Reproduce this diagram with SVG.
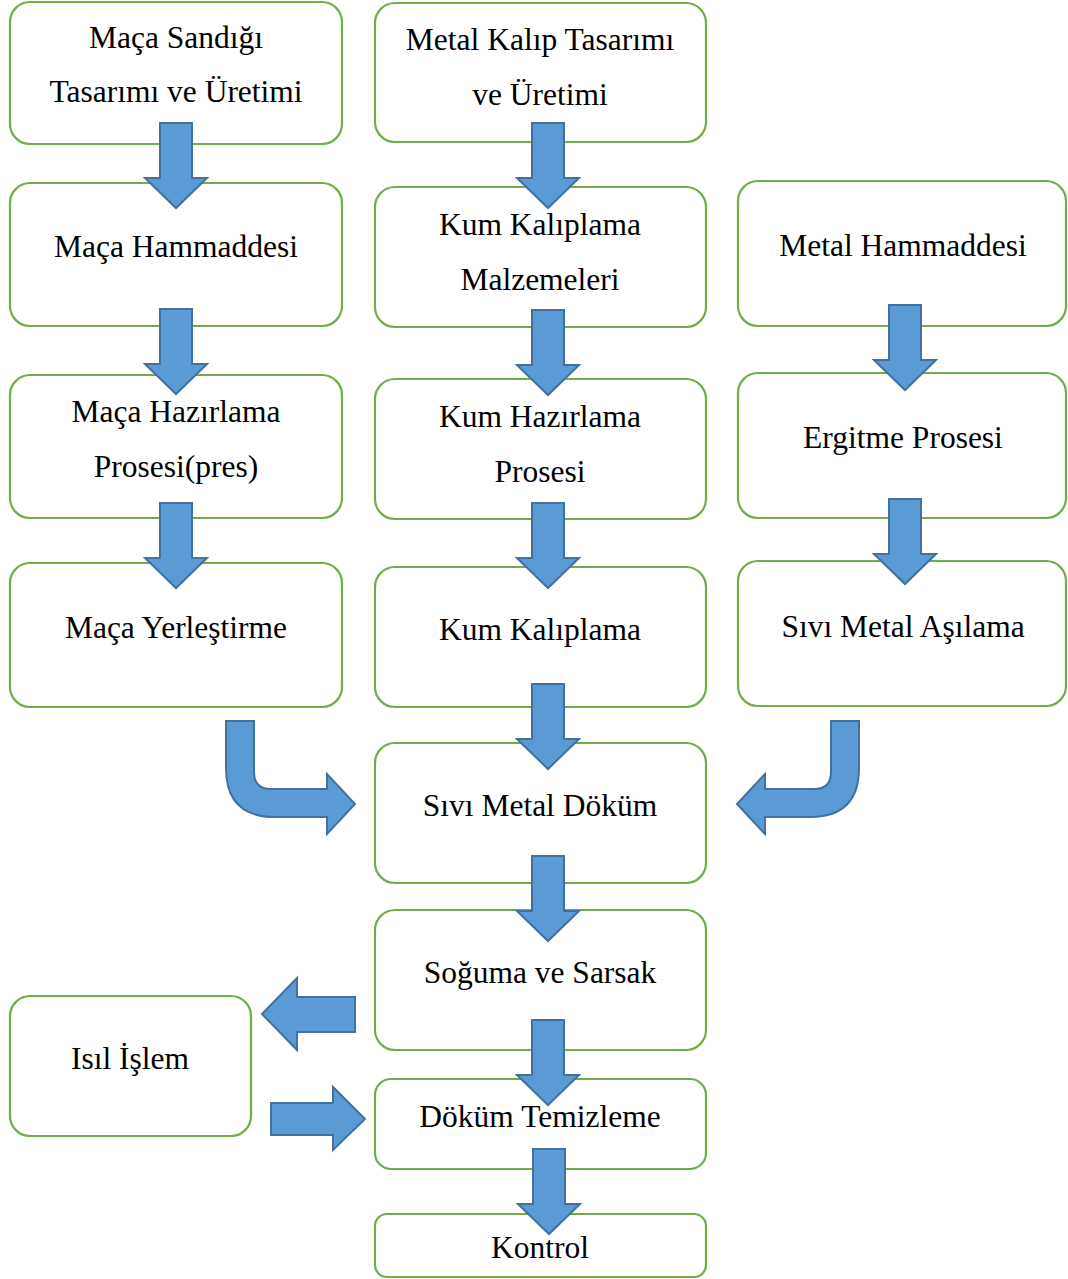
<svg xmlns="http://www.w3.org/2000/svg" xmlns:xlink="http://www.w3.org/1999/xlink" width="1068" height="1279" viewBox="0 0 1068 1279">
  <style>
    .box { fill: #ffffff; stroke: #70AD47; stroke-width: 2.2; }
    .lbl { font-family: "Liberation Serif", "Times New Roman", serif; font-size: 31.5px; fill: #000000; text-anchor: middle; }
    .arr { fill: #5B9BD5; stroke: #41719C; stroke-width: 2; stroke-linejoin: miter; }
  </style>
  <defs>
    <!-- block arrow pointing down, top of shaft at origin -->
    <path id="down" class="arr" d="M-16,0 H16 V55 H31 L0,85 L-31,55 H-16 Z"/>
  </defs>
  <rect width="1068" height="1279" fill="#ffffff"/>

  <g id="n-maca-sandigi"><rect class="box" x="10" y="2" width="332" height="142" rx="20"/>
    <text class="lbl" x="176" y="48">Maça Sandığı</text><text class="lbl" x="176" y="102">Tasarımı ve Üretimi</text></g>
  <g id="n-metal-kalip"><rect class="box" x="375" y="3" width="331" height="139" rx="20"/>
    <text class="lbl" x="540" y="50">Metal Kalıp Tasarımı</text><text class="lbl" x="540" y="105">ve Üretimi</text></g>
  <g id="n-maca-hammadde"><rect class="box" x="10" y="183" width="332" height="143" rx="20"/>
    <text class="lbl" x="176" y="257">Maça Hammaddesi</text></g>
  <g id="n-kum-malzeme"><rect class="box" x="375" y="187" width="331" height="140" rx="20"/>
    <text class="lbl" x="540" y="235">Kum Kalıplama</text><text class="lbl" x="540" y="290">Malzemeleri</text></g>
  <g id="n-metal-hammadde"><rect class="box" x="738" y="181" width="328" height="145" rx="20"/>
    <text class="lbl" x="903" y="256">Metal Hammaddesi</text></g>
  <g id="n-maca-hazirlama"><rect class="box" x="10" y="375" width="332" height="143" rx="20"/>
    <text class="lbl" x="176" y="422">Maça Hazırlama</text><text class="lbl" x="176" y="477">Prosesi(pres)</text></g>
  <g id="n-kum-hazirlama"><rect class="box" x="375" y="379" width="331" height="140" rx="20"/>
    <text class="lbl" x="540" y="427">Kum Hazırlama</text><text class="lbl" x="540" y="482">Prosesi</text></g>
  <g id="n-ergitme"><rect class="box" x="738" y="373" width="328" height="145" rx="20"/>
    <text class="lbl" x="903" y="448">Ergitme Prosesi</text></g>
  <g id="n-maca-yerlestirme"><rect class="box" x="10" y="563" width="332" height="144" rx="20"/>
    <text class="lbl" x="176" y="638">Maça Yerleştirme</text></g>
  <g id="n-kum-kaliplama"><rect class="box" x="375" y="567" width="331" height="140" rx="20"/>
    <text class="lbl" x="540" y="640">Kum Kalıplama</text></g>
  <g id="n-asilama"><rect class="box" x="738" y="561" width="328" height="145" rx="20"/>
    <text class="lbl" x="903" y="637">Sıvı Metal Aşılama</text></g>
  <g id="n-dokum"><rect class="box" x="375" y="743" width="331" height="140" rx="20"/>
    <text class="lbl" x="540" y="816">Sıvı Metal Döküm</text></g>
  <g id="n-soguma"><rect class="box" x="375" y="910" width="331" height="140" rx="20"/>
    <text class="lbl" x="540" y="983">Soğuma ve Sarsak</text></g>
  <g id="n-isil"><rect class="box" x="10" y="996" width="241" height="140" rx="20"/>
    <text class="lbl" x="130" y="1069">Isıl İşlem</text></g>
  <g id="n-temizleme"><rect class="box" x="375" y="1079" width="331" height="90" rx="16"/>
    <text class="lbl" x="540" y="1127">Döküm Temizleme</text></g>
  <g id="n-kontrol"><rect class="box" x="375" y="1214" width="331" height="63" rx="12"/>
    <text class="lbl" x="540" y="1258">Kontrol</text></g>

  <g id="connectors">
    <!-- left column -->
    <use xlink:href="#down" href="#down" transform="translate(176,123)"/>
    <use xlink:href="#down" href="#down" transform="translate(176,309)"/>
    <use xlink:href="#down" href="#down" transform="translate(176,503)"/>
    <!-- middle column -->
    <use xlink:href="#down" href="#down" transform="translate(548,123)"/>
    <use xlink:href="#down" href="#down" transform="translate(548,310)"/>
    <use xlink:href="#down" href="#down" transform="translate(548,503)"/>
    <use xlink:href="#down" href="#down" transform="translate(548,684)"/>
    <use xlink:href="#down" href="#down" transform="translate(548,856)"/>
    <use xlink:href="#down" href="#down" transform="translate(548,1020)"/>
    <use xlink:href="#down" href="#down" transform="translate(549,1149)"/>
    <!-- right column -->
    <use xlink:href="#down" href="#down" transform="translate(905,305)"/>
    <use xlink:href="#down" href="#down" transform="translate(905,499)"/>
    <!-- bent arrow from the left column into casting -->
    <path class="arr" d="M226,721 H254 V772 Q254,789 271,789 H327 V774 L355,804 L327,834 V817 H275 Q226,817 226,768 Z"/>
    <!-- bent arrow from the right column into casting -->
    <path class="arr" d="M859,721 H831 V772 Q831,789 814,789 H765 V774 L737,804 L765,834 V817 H810 Q859,817 859,768 Z"/>
    <!-- to heat treatment -->
    <path class="arr" d="M355,997 V1032 H297 V1050 L262,1014 L297,978 V997 Z"/>
    <!-- back from heat treatment -->
    <path class="arr" d="M271,1103 H333 V1087 L365,1119 L333,1150 V1135 H271 Z"/>
  </g>
</svg>
